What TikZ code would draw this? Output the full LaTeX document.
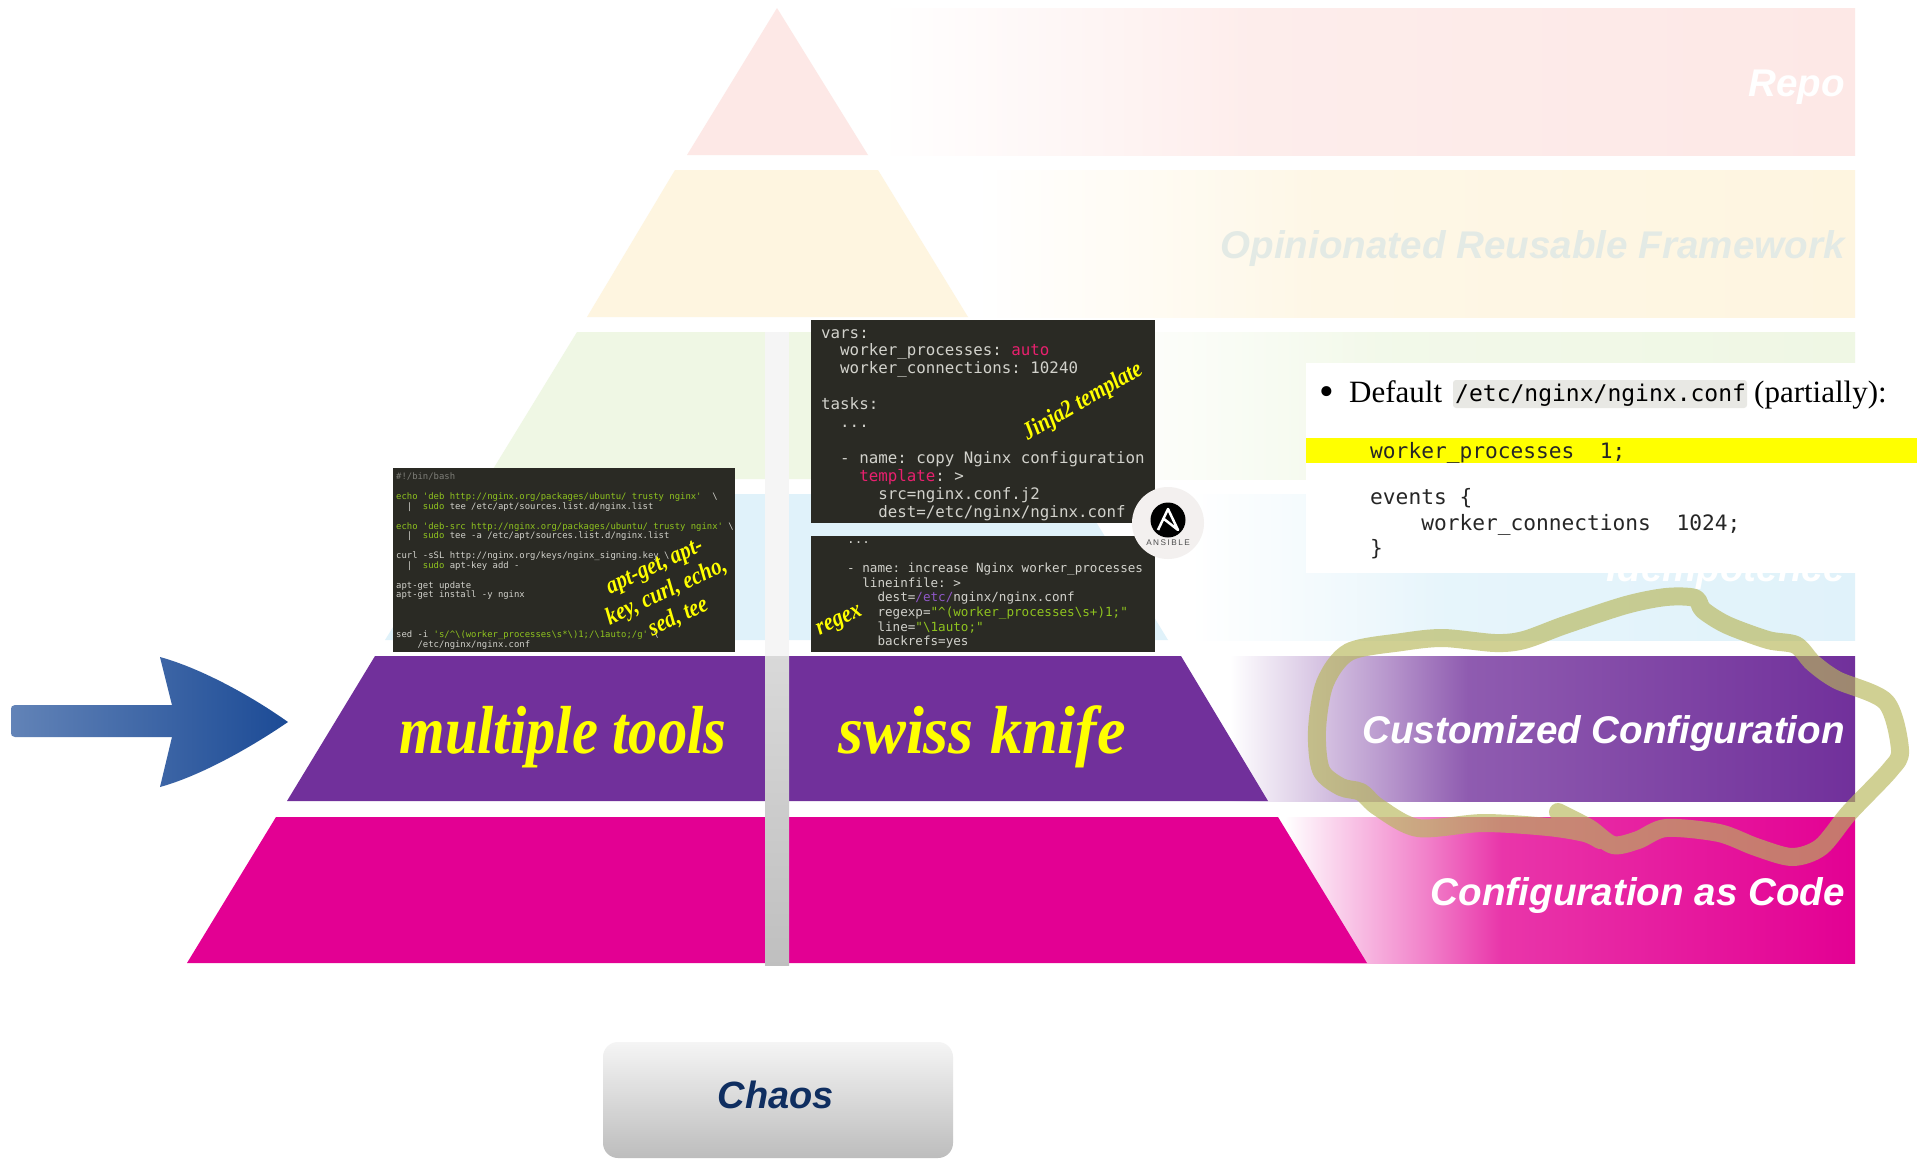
\documentclass[tikz,border=0pt]{standalone}
\usepackage{graphicx}
\usepackage{fontspec}
\setmainfont{Liberation Serif}
\setsansfont{Liberation Sans}
\setmonofont{DejaVu Sans Mono}
\newfontfamily\toolfont[FakeStretch=.86]{Liberation Serif}
\newfontfamily\logofont[LetterSpace=18]{Liberation Sans}
\definecolor{repocol}{HTML}{FDE8E6}
\definecolor{framecol}{HTML}{FEF5E0}
\definecolor{idemcol}{HTML}{E0F2FA}
\definecolor{greencol}{HTML}{EFF7E4}
\definecolor{purplecol}{HTML}{71309B}
\definecolor{magentacol}{HTML}{E30093}
\definecolor{panelcol}{HTML}{2A2A24}
\definecolor{codegrey}{HTML}{D2D2CC}
\definecolor{codepink}{HTML}{E8206E}
\definecolor{codegreen}{HTML}{8FC31F}
\definecolor{codeviolet}{HTML}{9058C8}
\definecolor{scribblecol}{HTML}{B7B75A}
\definecolor{markyellow}{RGB}{255,255,0}
\definecolor{frametext}{HTML}{E3EAE5}
\definecolor{arrowleft}{HTML}{6283B7}
\definecolor{arrowright}{HTML}{1C4B96}
\definecolor{chaostext}{HTML}{0F2E60}
\definecolor{logoback}{HTML}{F3F0EF}
\definecolor{pathback}{HTML}{E8E8E4}
\colorlet{bandcol}{white}
\pgfdeclarehorizontalshading[bandcol]{bandfade}{100bp}{color(0bp)=(white); color(25bp)=(white); color(37.5bp)=(bandcol!50!white); color(44bp)=(bandcol!79!white); color(75bp)=(bandcol); color(100bp)=(bandcol)}
\newcommand{\pinkword}[1]{\textcolor{codepink}{#1}}
\newcommand{\greenword}[1]{\textcolor{codegreen}{#1}}
\tikzset{
  bandlabel/.style={anchor=base east, inner sep=0pt, font=\fontsize{38.6}{44}\selectfont\sffamily\bfseries\itshape},
  toollabel/.style={anchor=base, inner sep=0pt, text=markyellow, font=\fontsize{68}{72}\selectfont\toolfont\bfseries\itshape},
  tiltlabel/.style={inner sep=0pt, align=center, text=markyellow, font=\fontsize{24.5}{28}\selectfont\toolfont\bfseries\itshape},
  bashcode/.style={anchor=north west, inner sep=0pt, align=left, text=codegrey, font=\fontsize{8.9}{9.83}\selectfont\ttfamily},
  varscode/.style={anchor=north west, inner sep=0pt, align=left, text=codegrey, font=\fontsize{15.8}{17.9}\selectfont\ttfamily},
  regexcode/.style={anchor=north west, inner sep=0pt, align=left, text=codegrey, font=\fontsize{12.6}{14.7}\selectfont\ttfamily},
  confcode/.style={anchor=north west, inner sep=0pt, align=left, text=black!85, font=\fontsize{21.2}{25.7}\selectfont\ttfamily},
  notetext/.style={anchor=base west, inner sep=0pt, font=\fontsize{31}{36}\selectfont}
}
\begin{document}
\begin{tikzpicture}[x=1pt,y=-1pt]
\useasboundingbox (0,0) rectangle (1917,1160);
\fill[white] (0,0) rectangle (1917,1160);
\colorlet{bandcol}{repocol}
\shade[shading=bandfade] (880,8) rectangle (1855,155);
\colorlet{bandcol}{framecol}
\shade[shading=bandfade] (975,170) rectangle (1855,317);
\colorlet{bandcol}{greencol}
\shade[shading=bandfade] (1085,332) rectangle (1855,479);
\colorlet{bandcol}{idemcol}
\shade[shading=bandfade] (1190,494) rectangle (1855,640);
\colorlet{bandcol}{purplecol}
\shade[shading=bandfade] (1230,656) rectangle (1855,801);
\colorlet{bandcol}{magentacol}
\shade[shading=bandfade] (1285,817) rectangle (1855,963);
\fill[repocol] (777,8)--(868,155)--(687,155)--cycle;
\fill[framecol] (675,170)--(878,170)--(968,317)--(587,317)--cycle;
\fill[greencol] (577,332)--(978,332)--(1069,479)--(487,479)--cycle;
\fill[idemcol] (476,494)--(1079,494)--(1168,640)--(385,640)--cycle;
\fill[purplecol] (375,656)--(1181,656)--(1268,801)--(287,801)--cycle;
\fill[magentacol] (276,817)--(1278,817)--(1367,963)--(187,963)--cycle;
\node[bandlabel, text=white] (repo) at (1845,96) {Repo};
\node[bandlabel, text=frametext] (framework) at (1845,258) {Opinionated Reusable Framework};
\node[bandlabel, text=white] (idempotence) at (1845,581) {Idempotence};
\node[bandlabel, text=white] (customized) at (1845,743) {Customized Configuration};
\node[bandlabel, text=white] (ascode) at (1845,905) {Configuration as Code};
\fill[black!4] (765,332) rectangle (789,656);
\shade[top color=black!15, bottom color=black!25] (765,656) rectangle (789,965);
\shade[left color=arrowleft, right color=arrowright]
(15,705)--(172,705)--(160,657) .. controls (200,668) and (250,695) .. (288,722)
.. controls (250,748) and (200,776) .. (160,787)--(172,737)--(15,737)
.. controls (12,737) and (11,735) .. (11,733)--(11,709) .. controls (11,707) and (12,705) .. (15,705)--cycle;
\node[toollabel] (multiple) at (563,753) {multiple tools};
\node[toollabel] (swiss) at (982,753) {\scalebox{1.1}[1]{swiss knife}};
\fill[panelcol] (393,468) rectangle (735,652);
\node[bashcode] (bashtext) at (396,473) {\textcolor{codegrey!50!panelcol}{\#!/bin/bash}\\~\\
\greenword{echo 'deb http://nginx.org/packages/ubuntu/ trusty nginx'}~~\textbackslash\\
~~|~~\greenword{sudo} tee /etc/apt/sources.list.d/nginx.list\\~\\
\greenword{echo 'deb-src http://nginx.org/packages/ubuntu/ trusty nginx'} \textbackslash\\
~~|~~\greenword{sudo} tee -a /etc/apt/sources.list.d/nginx.list\\~\\
curl -sSL http://nginx.org/keys/nginx\_signing.key \textbackslash\\
~~|~~\greenword{sudo} apt-key add -\\~\\
apt-get update\\
apt-get install -y nginx\\~\\~\\~\\
sed -i \greenword{'s/\textasciicircum\textbackslash(worker\_processes\textbackslash s*\textbackslash)1;/\textbackslash 1auto;/g'} \textbackslash\\
~~~~/etc/nginx/nginx.conf};
\node[tiltlabel, rotate=25] (aptlist) at (667,593) {apt-get, apt-\\key, curl, echo,\\sed, tee};
\fill[panelcol] (811,320) rectangle (1155,523);
\node[varscode] (varstext) at (821,329) {vars:\\
~~worker\_processes: \pinkword{auto}\\
~~worker\_connections: 10240\\~\\
tasks:\\
~~...\\~\\
~~- name: copy Nginx configuration\\
~~~~\pinkword{template}: >\\
~~~~~~src=nginx.conf.j2\\
~~~~~~dest=/etc/nginx/nginx.conf};
\node[tiltlabel, rotate=30] (jinja) at (1083,402) {Jinja2 template};
\fill[panelcol] (811,536) rectangle (1155,652);
\node[regexcode] (regextext) at (847,541) {...\\~\\
- name: increase Nginx worker\_processes\\
~~lineinfile: >\\
~~~~dest=\textcolor{codeviolet}{/etc/}nginx/nginx.conf\\
~~~~regexp=\greenword{"\textasciicircum(worker\_processes\textbackslash s+)1;"}\\
~~~~line=\greenword{"\textbackslash 1auto;"}\\
~~~~backrefs=yes};
\node[tiltlabel, rotate=25] (regex) at (840,622) {regex};
\fill[logoback] (1168,523) circle[radius=36];
\fill[black] (1168,520) circle[radius=17.5];
\draw[white, line width=2.5pt, line join=round] (1158,530)--(1168,509)--(1178,530)--(1164,519);
\node[inner sep=0pt, text=black!70, font=\fontsize{8.2}{9}\selectfont\logofont] (ansible) at (1168,543) {ANSIBLE};
\fill[white] (1306,363) rectangle (1917,573);
\fill[markyellow] (1306,438) rectangle (1917,463);
\fill[pathback, rounded corners=3pt] (1453,380) rectangle (1747,408);
\node[notetext, font=\fontsize{42}{44}\selectfont] (bullet) at (1319,405) {\textbullet};
\node[notetext] (default) at (1349,402) {Default};
\node[notetext, font=\fontsize{23}{28}\selectfont\ttfamily] (confpath) at (1455,401) {/etc/nginx/nginx.conf};
\node[notetext] (partially) at (1754,402) {(partially):};
\node[confcode] (confone) at (1370,442) {worker\_processes~~1;};
\node[confcode] (conftwo) at (1370,488) {events \{\\~~~~worker\_connections~~1024;\\\}};
\draw[scribblecol, opacity=.65, line width=18pt, line cap=round, line join=round] plot[smooth] coordinates {
(1558,812) (1589,828) (1613,845) (1638,840) (1666,828) (1719,833) (1756,847) (1792,857) (1821,847) (1849,813) (1890,770) (1900,750) (1886,702) (1837,680) (1813,663) (1796,645) (1768,640) (1727,625) (1703,610) (1695,598) (1666,597) (1626,605) (1565,625) (1524,640) (1495,643) (1443,638) (1402,642) (1349,652) (1325,683) (1317,730) (1321,770) (1341,787) (1361,792) (1378,807) (1418,828) (1483,823) (1548,827) (1585,833) (1600,840)};
\shade[top color=black!4, bottom color=black!26, rounded corners=15pt] (603,1042) rectangle (953,1158);
\node[inner sep=0pt, text=chaostext, font=\fontsize{38}{44}\selectfont\sffamily\bfseries\itshape] (chaos) at (776,1095) {Chaos};
\end{tikzpicture}
\end{document}
